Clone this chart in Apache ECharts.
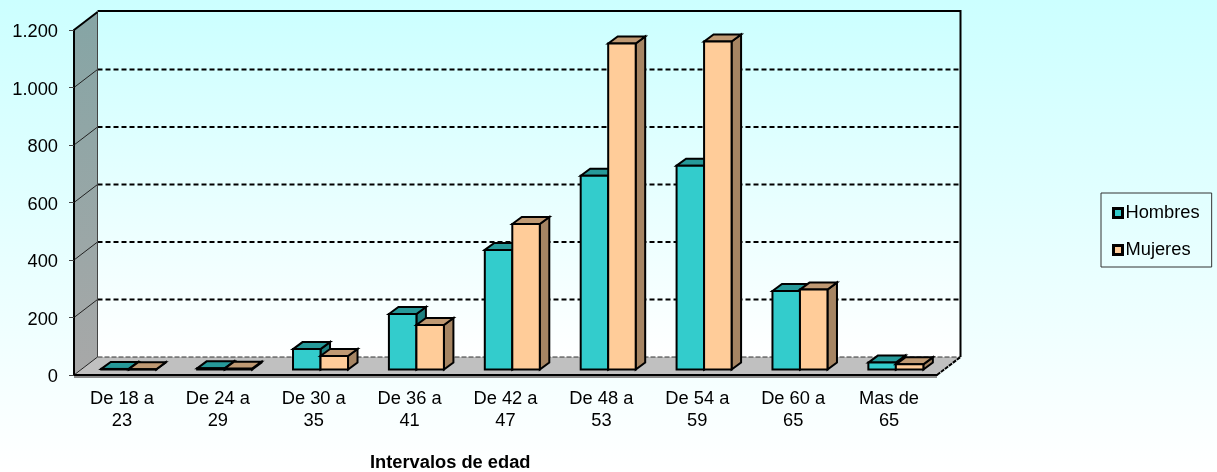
<!DOCTYPE html>
<html>
<head>
<meta charset="utf-8">
<style>
    html, body { margin: 0; padding: 0; background: #fff; }
    #chart { width: 1217px; height: 472px; }
</style>
<script src="https://cdn.jsdelivr.net/npm/echarts@6/dist/echarts.min.js"></script>
</head>
<body>
<div id="chart"></div>
<script>
    var categories = ["De 18 a\n23", "De 24 a\n29", "De 30 a\n35", "De 36 a\n41", "De 42 a\n47", "De 48 a\n53", "De 54 a\n59", "De 60 a\n65", "Mas de\n65"];
    var hombres = [2, 4, 71, 193, 416, 674, 709, 273, 24];
    var mujeres = [1, 3, 47, 155, 506, 1134, 1141, 278, 18];
    var yTicks = [0, 200, 400, 600, 800, 1000, 1200];

    var FONT = '"Liberation Sans", Arial, sans-serif';

    // caja 3D: desplazamiento del fondo respecto al plano frontal
    var DEPTH_X = 23.5, DEPTH_Y = -18;
    var BAR_W = 27.5, BAR_DX = 9.5, BAR_DY = -7, BAR_BASE = -5.5;

    const vgrad = (stops) => ({
        type: 'linear', x: 0, y: 0, x2: 0, y2: 1,
        colorStops: stops.map((c, i) => ({ offset: i / (stops.length - 1), color: c }))
    });

    const poly = (points, fill, stroke, lw) => ({
        type: 'polygon',
        shape: { points: points },
        style: { fill: fill, stroke: stroke || null, lineWidth: lw || 0, lineJoin: 'miter' }
    });

    const line = (a, b, color, lw, dash) => ({
        type: 'line',
        shape: { x1: a[0], y1: a[1], x2: b[0], y2: b[1] },
        style: { stroke: color, lineWidth: lw, lineDash: dash || null, fill: null }
    });

    const renderWalls = (params, api) => {
        let cs = params.coordSys;
        let x0 = cs.x, x1 = cs.x + cs.width;
        let yBase = api.coord([0, 0])[1], yTop = api.coord([0, 1200])[1];
        let dx = DEPTH_X, dy = DEPTH_Y;
        let ch = [];

        // suelo, pared lateral, pared del fondo
        ch.push(poly([[x0, yBase], [x0 + dx, yBase + dy], [x1 + dx, yBase + dy], [x1, yBase]], '#c0c0c0'));
        ch.push(poly([[x0, yTop], [x0 + dx, yTop + dy], [x0 + dx, yBase + dy], [x0, yBase]], vgrad(['#85a5a5', '#a8a8a8'])));
        ch.push(poly([[x0 + dx, yTop + dy], [x1 + dx, yTop + dy], [x1 + dx, yBase + dy], [x0 + dx, yBase + dy]], vgrad(['#ccffff', '#ffffff'])));

        for (let v of yTicks) {
            let y = api.coord([0, v])[1];
            if (v > 0 && v < 1200) {
                ch.push(line([x0 + dx, y + dy], [x1 + dx, y + dy], '#000', 2, [5, 3]));
            }
            if (v < 1200) {
                ch.push(line([x0, y], [x0 + dx, y + dy], '#222', 1));
            }
        }

        // bordes
        ch.push(line([x0 + dx, yBase + dy], [x1 + dx, yBase + dy], '#333', 1, [5, 2]));
        ch.push(line([x0 + dx, yTop + dy], [x0 + dx, yBase + dy], '#444', 1));
        ch.push(line([x0 + dx, yTop + dy - 1], [x1 + dx + 1, yTop + dy - 1], '#000', 2));
        ch.push(line([x1 + dx, yTop + dy], [x1 + dx, yBase + dy], '#000', 2));
        ch.push(line([x0, yTop], [x0 + dx, yTop + dy], '#000', 2));
        ch.push(line([x1, yBase], [x1 + dx, yBase + dy], '#000', 2, [4, 1]));
        ch.push(line([x0, yBase + 2], [x1, yBase + 2], '#8c8c8c', 2));

        return { type: 'group', children: ch };
    };

    const barRenderer = (offset, front, top, side) => (params, api) => {
        let p0 = api.coord([api.value(0), 0]);
        let p1 = api.coord([api.value(0), api.value(1)]);
        let l = p0[0] + offset, r = l + BAR_W;
        let b = p0[1] + BAR_BASE, t = p1[1] + BAR_BASE;
        let dx = BAR_DX, dy = BAR_DY;
        return {
            type: 'group',
            children: [
                poly([[r, t], [r + dx, t + dy], [r + dx, b + dy], [r, b]], side, '#000', 2),
                poly([[l, t], [l + dx, t + dy], [r + dx, t + dy], [r, t]], top, '#000', 2),
                poly([[l, t], [r, t], [r, b], [l, b]], front, '#000', 2)
            ]
        };
    };

    var m_chart = echarts.init(document.getElementById('chart'));

    let option = {
        animation: false,
        backgroundColor: vgrad(['#ccffff', '#ffffff']),
        textStyle: { fontFamily: FONT },
        title: {
            text: 'Intervalos de edad',
            left: 370,
            top: 454,
            padding: 0,
            textStyle: { fontFamily: FONT, fontSize: 18.3, fontWeight: 'bold', color: '#000', lineHeight: 18 }
        },
        grid: { left: 74, right: 280, top: 30, bottom: 97 },
        legend: {
            orient: 'vertical',
            left: 1101,
            top: 193,
            padding: [11, 12, 8, 11],
            itemGap: 19,
            itemWidth: 9,
            itemHeight: 9,
            icon: 'rect',
            selectedMode: false,
            borderColor: '#333',
            borderWidth: 1,
            itemStyle: { borderColor: '#000', borderWidth: 3 },
            textStyle: { fontFamily: FONT, fontSize: 18.3, color: '#000', padding: [0, 0, 0, -2] },
            data: ['Hombres', 'Mujeres']
        },
        xAxis: {
            type: 'category',
            data: categories,
            boundaryGap: true,
            axisLine: { lineStyle: { color: '#000', width: 2 } },
            axisTick: { length: 6, lineStyle: { color: '#444', width: 1 } },
            axisLabel: { color: '#000', fontFamily: FONT, fontSize: 18.3, lineHeight: 22, margin: 13, interval: 0 },
            z: 5
        },
        yAxis: {
            type: 'value',
            min: 0,
            max: 1200,
            interval: 200,
            splitLine: { show: false },
            axisLine: { show: true, lineStyle: { color: '#000', width: 2 } },
            axisTick: { show: true, length: 5, lineStyle: { color: '#444', width: 1 } },
            axisLabel: {
                color: '#000', margin: 16,
                formatter: (v) => '{t|' + String(v).replace(/\B(?=(\d{3})+$)/, '.') + '}',
                rich: { t: { fontFamily: FONT, fontSize: 18.3, color: '#000', padding: [4, 0, 0, 0] } }
            },
            z: 5
        },
        series: [
            {
                name: 'paredes',
                type: 'custom',
                renderItem: renderWalls,
                data: [[0, 0]],
                encode: { x: 0, y: 1 },
                silent: true,
                z: 1
            },
            {
                name: 'Hombres',
                type: 'custom',
                renderItem: barRenderer(-20.7, '#33cccc', '#269999', '#1f8080'),
                itemStyle: { color: '#33cccc' },
                data: hombres.map((v, i) => [i, v]),
                encode: { x: 0, y: 1 },
                z: 2
            },
            {
                name: 'Mujeres',
                type: 'custom',
                renderItem: barRenderer(6.8, '#ffcc99', '#bf9973', '#a68563'),
                itemStyle: { color: '#ffcc99' },
                data: mujeres.map((v, i) => [i, v]),
                encode: { x: 0, y: 1 },
                z: 3
            }
        ]
    };

    m_chart.setOption(option);
</script>
</body>
</html>
